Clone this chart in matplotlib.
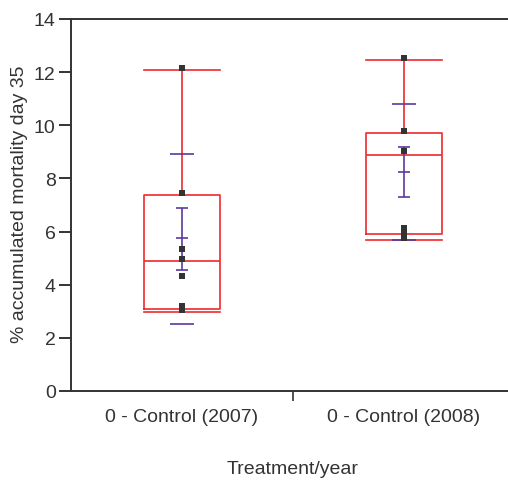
#!/usr/bin/env python3
# -*- coding: utf-8 -*-

import numpy as np
import matplotlib
matplotlib.use('Agg')
import matplotlib.pyplot as plt

plt.rcParams['font.family'] = ['Liberation Sans', 'DejaVu Sans']

# categories
groups = ['0 - Control (2007)', '0 - Control (2008)']

# box statistics
whis_lo = [2.97, 5.70]
q1 = [3.10, 5.91]
median = [4.89, 8.90]
q3 = [7.39, 9.71]
whis_hi = [12.08, 12.47]

# mean +/- error (purple)
mean = [5.75, 8.23]
err_lo = [4.55, 7.31]
err_hi = [6.88, 9.17]
# outer purple caps
outer_lo = [2.52, 5.68]
outer_hi = [8.92, 10.80]

# individual observations
obs_2007 = [12.15, 7.44, 5.34, 4.96, 4.33, 3.20, 3.05]
obs_2008 = [12.55, 9.80, 9.04, 6.12, 5.90, 5.76]

RED = '#ee2a2f'
PURPLE = '#5a3a9e'
DARK = '#333333'
FS = 14


def draw(ax):
    pos = np.array([0.5, 1.5])
    stats = []
    for i in range(2):
        stats.append(dict(whislo=whis_lo[i], q1=q1[i], med=median[i],
                          q3=q3[i], whishi=whis_hi[i], fliers=[]))
    lw = 1.2
    ax.bxp(stats, positions=pos, widths=0.338, capwidths=0.338,
           showfliers=False, manage_ticks=False,
           boxprops=dict(color=RED, linewidth=lw),
           whiskerprops=dict(color=RED, linewidth=lw),
           capprops=dict(color=RED, linewidth=lw),
           medianprops=dict(color=RED, linewidth=lw))

    # purple outer caps
    ax.hlines(outer_lo, pos - 0.052, pos + 0.052, color=PURPLE, lw=lw, zorder=3)
    ax.hlines(outer_hi, pos - 0.052, pos + 0.052, color=PURPLE, lw=lw, zorder=3)

    # mean with error bar
    m = np.array(mean)
    ax.errorbar(pos, m, yerr=[m - np.array(err_lo), np.array(err_hi) - m],
                fmt='none', ecolor=PURPLE, elinewidth=lw, capsize=4,
                capthick=lw, zorder=4)
    ax.hlines(m, pos - 0.025, pos + 0.025, color=PURPLE, lw=lw, zorder=4)

    # points
    for p, obs in zip(pos, [obs_2007, obs_2008]):
        ax.scatter(np.full(len(obs), p), obs, marker='s', s=16,
                   color=DARK, zorder=5, linewidths=0)


def main():
    fig = plt.figure(figsize=(5.08, 4.81), dpi=100)
    ax = fig.add_axes([71 / 508, 89 / 481, 444 / 508, 372 / 481])
    draw(ax)

    ax.set_xlim(0, 2)
    ax.set_ylim(0, 14)
    ax.set_yticks(np.arange(0, 15, 2))
    ax.set_xticks([0.5, 1.5])
    ax.set_xticklabels(groups)
    ax.set_xticks([1], minor=True)
    ax.tick_params(axis='x', which='major', length=0, pad=12,
                   labelsize=FS, labelcolor='#333333')
    ax.tick_params(axis='x', which='minor', length=7, width=1.2,
                   color=DARK, direction='out')
    ax.tick_params(axis='y', length=9, width=1.4, color=DARK, pad=2,
                   labelsize=FS, labelcolor='#333333')

    for side in ['left', 'bottom', 'top']:
        ax.spines[side].set_color(DARK)
        ax.spines[side].set_linewidth(1.4)
    ax.spines['right'].set_visible(False)

    fig.text(20 / 508, 1 - 204 / 481, '% accumulated mortality day 35',
             rotation=90, ha='center', va='center', fontsize=FS,
             color='#333333')
    fig.text(293 / 508, 1 - 470 / 481, 'Treatment/year', ha='center',
             va='center', fontsize=FS, color='#333333')

    fig.savefig('out.png', dpi=100)


if __name__ == '__main__':
    main()
